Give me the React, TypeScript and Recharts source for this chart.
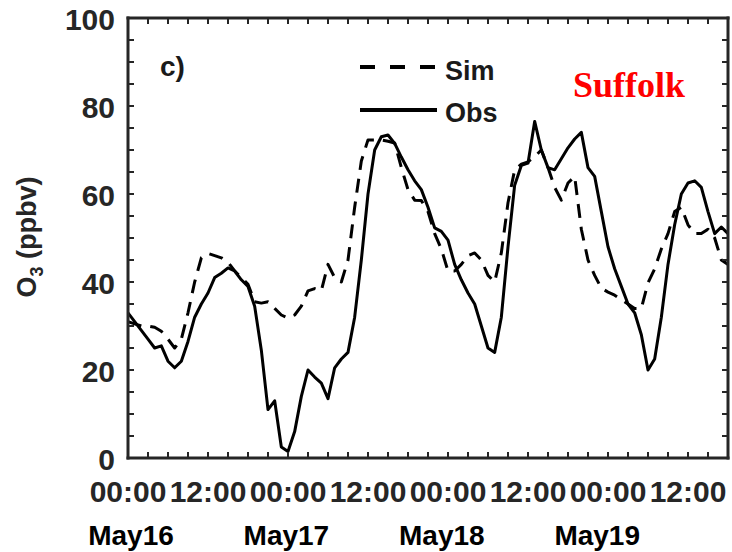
import React from 'react';
import { LineChart, Line, XAxis, YAxis } from 'recharts';

// hours since May16 00:00
const hours = [
  0, 1, 2, 3, 4, 5, 6, 7, 8, 9,
  10, 11, 12, 13, 14, 15, 16, 17, 18, 19,
  20, 21, 22, 23, 24, 25, 26, 27, 28, 29,
  30, 31, 32, 33, 34, 35, 36, 37, 38, 39,
  40, 41, 42, 43, 44, 45, 46, 47, 48, 49,
  50, 51, 52, 53, 54, 55, 56, 57, 58, 59,
  60, 61, 62, 63, 64, 65, 66, 67, 68, 69,
  70, 71, 72, 73, 74, 75, 76, 77, 78, 79,
  80, 81, 82, 83, 84, 85, 86, 87, 88, 89, 90,
];

const simO3 = [
  31, 30.5, 30, 30, 29.7, 28.8, 27, 25, 27, 33,
  40, 45.5, 46.5, 46, 45.5, 44.5, 42.5, 41, 39.5, 35.5,
  35.2, 35.5, 34, 32.5, 31.8, 32.5, 34.5, 38, 38.5, 38,
  44, 41, 40, 45, 57, 67.5, 72.3, 72.3, 72.3, 72,
  71.6, 66, 61, 58.6, 58.5, 56, 51, 47.5, 42.5, 42.5,
  44, 46, 46.6, 45, 41.5, 40, 46.6, 58, 65.5, 66.8,
  67.3, 68.5, 70, 66, 61.5, 58.6, 62.5, 64, 52, 45,
  41.5, 38.6, 37.7, 37, 36, 35, 34, 34, 39.8, 43,
  47.5, 51, 56, 57, 53, 51, 51, 52, 50, 45, 44,
];

const obsO3 = [
  33, 31, 29, 27, 25, 25.5, 22, 20.5, 22, 26.5,
  32, 35, 37.5, 41, 42, 43.2, 42.5, 40.5, 39, 34.5,
  24.5, 11, 13, 2.5, 1.5, 6, 14, 20, 18.4, 17,
  13.5, 20.5, 22.5, 24, 32, 45, 60, 70, 73, 73.4,
  71.5, 68.4, 65.5, 63, 61, 57, 52.3, 51.5, 49.5, 44,
  40.5, 37.5, 35, 30, 25, 24, 32, 48, 62, 66.5,
  67, 76.5, 70, 66, 65.5, 68, 70.5, 72.5, 74, 66,
  64, 56, 48, 43, 39, 35, 33, 28, 20, 22.5,
  32, 44, 53, 60, 62.5, 63, 61.5, 56, 51, 52.5, 51,
];

const timeTicks = [0, 3, 6, 9, 12, 15, 18, 21, 24, 27, 30, 33, 36, 39, 42, 45, 48, 51, 54, 57, 60, 63, 66, 69, 72, 75, 78, 81, 84, 87];
const dayLabels = ['May16', 'May17', 'May18', 'May19'];
const yTicks = [0, 5, 10, 15, 20, 25, 30, 35, 40, 45, 50, 55, 60, 65, 70, 75, 80, 85, 90, 95, 100];

const data = hours.map((h, i) => ({ h, sim: simO3[i], obs: obsO3[i] }));

const AXIS = '#262626';
const FONT = '"Liberation Sans", Arial, sans-serif';
const axisLine = { stroke: AXIS, strokeWidth: 3, strokeLinecap: 'square' as const };

const BottomTick = ({ x, y, payload }: any) => {
  const v = payload.value;
  const day = v / 24;
  return (
    <g>
      <line x1={x} x2={x} y1={y} y2={y - 6} stroke={AXIS} strokeWidth={2} />
      {v % 12 === 0 && (
        <text x={x} y={y + 33} textAnchor="middle" dominantBaseline="central"
          fontFamily={FONT} fontWeight="bold" fontSize={30} fill={AXIS}>
          {v % 24 === 0 ? '00:00' : '12:00'}
        </text>
      )}
      {v % 24 === 0 && (
        <text x={x + 3 - 4.6 * day} y={y + 77} textAnchor="middle" dominantBaseline="central"
          fontFamily={FONT} fontWeight="bold" fontSize={28} fill="#000">
          {dayLabels[day]}
        </text>
      )}
    </g>
  );
};

const TopTick = ({ x, y }: any) => (
  <line x1={x} x2={x} y1={y} y2={y + 6} stroke={AXIS} strokeWidth={2} />
);

const LeftTick = ({ x, y, payload }: any) => (
  <g>
    <line x1={x} x2={x + 6} y1={y} y2={y} stroke={AXIS} strokeWidth={2} />
    {payload.value % 20 === 0 && (
      <text x={x - 13} y={y + 1} textAnchor="end" dominantBaseline="central"
        fontFamily={FONT} fontWeight="bold" fontSize={30} fill={AXIS}>
        {payload.value}
      </text>
    )}
  </g>
);

const RightTick = ({ x, y }: any) => (
  <line x1={x} x2={x - 6} y1={y} y2={y} stroke={AXIS} strokeWidth={2} />
);

export default function App() {
  return (
    <div style={{ position: 'relative', width: 732, height: 552, background: '#fff' }}>
      <style>{'body{margin:0}'}</style>
      <LineChart width={732} height={552} data={data} margin={{ top: 17, right: 3, left: 0, bottom: 0 }}>
        <XAxis xAxisId="bottom" dataKey="h" type="number" domain={[0, 90]} ticks={timeTicks}
          height={94} tickSize={0} tickMargin={0} tickLine={false} axisLine={axisLine}
          tick={<BottomTick />} interval={0} allowDataOverflow />
        <XAxis xAxisId="top" orientation="top" dataKey="h" type="number" domain={[0, 90]} ticks={timeTicks}
          height={1} tickSize={0} tickMargin={0} tickLine={false} axisLine={axisLine}
          tick={<TopTick />} interval={0} allowDataOverflow />
        <YAxis yAxisId="left" type="number" domain={[0, 100]} ticks={yTicks} width={128}
          tickSize={0} tickMargin={0} tickLine={false} axisLine={axisLine}
          tick={<LeftTick />} interval={0} allowDataOverflow />
        <YAxis yAxisId="right" orientation="right" type="number" domain={[0, 100]} ticks={yTicks} width={1}
          tickSize={0} tickMargin={0} tickLine={false} axisLine={axisLine}
          tick={<RightTick />} interval={0} allowDataOverflow />
        <Line xAxisId="bottom" yAxisId="left" type="linear" dataKey="sim" stroke="#000" strokeWidth={3}
          strokeDasharray="14 9" dot={false} isAnimationActive={false} strokeLinejoin="round" />
        <Line xAxisId="bottom" yAxisId="left" type="linear" dataKey="obs" stroke="#000" strokeWidth={3}
          dot={false} isAnimationActive={false} strokeLinejoin="round" />
      </LineChart>

      {/* annotations, legend and y-axis title */}
      <svg width={732} height={552} style={{ position: 'absolute', left: 0, top: 0, pointerEvents: 'none' }}>
        <text x={160} y={76} fontFamily={FONT} fontWeight="bold" fontSize={28} fill="#1a1a1a">c)</text>
        <line x1={360} x2={437} y1={67} y2={67} stroke="#000" strokeWidth={4} strokeDasharray="15 15" />
        <text x={445} y={80} fontFamily={FONT} fontWeight="bold" fontSize={27} fill="#1a1a1a">Sim</text>
        <line x1={360} x2={437} y1={110} y2={110} stroke="#000" strokeWidth={4} />
        <text x={445} y={122} fontFamily={FONT} fontWeight="bold" fontSize={27} fill="#1a1a1a">Obs</text>
        <text x={573} y={97} fontFamily={'"Liberation Serif", "Times New Roman", serif'} fontWeight="bold"
          fontSize={36} fill="#ff0000">Suffolk</text>
        <text transform="translate(36,237) rotate(-90)" textAnchor="middle"
          fontFamily={FONT} fontWeight="bold" fontSize={27} fill={AXIS}>
          O<tspan dy={7} fontSize={18}>3</tspan><tspan dy={-7}> (ppbv)</tspan>
        </text>
      </svg>
    </div>
  );
}
